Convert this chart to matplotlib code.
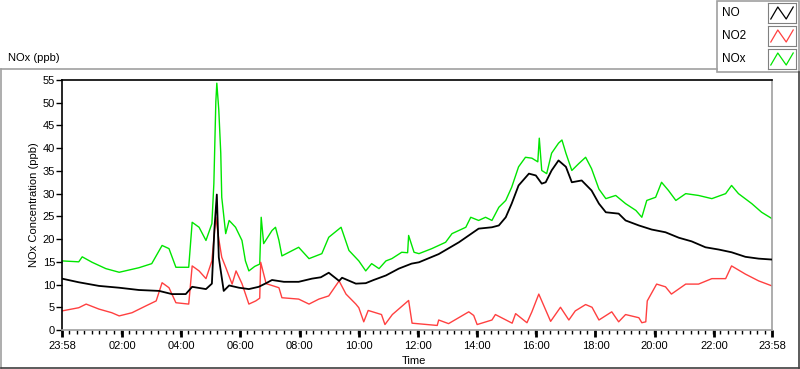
import numpy as np
import matplotlib
matplotlib.use('Agg')
import matplotlib.pyplot as plt
from matplotlib.lines import Line2D
from matplotlib.patches import Rectangle

plt.rcParams['font.family'] = ['Liberation Sans', 'DejaVu Sans']
plt.rcParams['font.size'] = 8

# minutes after 23:58 (start of record), values in ppb
no_min = [0, 34, 75, 116, 156, 197, 223, 251, 264, 292, 304, 309, 314, 318, 322, 328,
          339, 359, 379, 399, 414, 426, 450, 480, 507, 525, 541, 562, 568, 596, 616,
          632, 657, 683, 709, 724, 764, 805, 845, 872, 886, 900, 912, 926, 947, 961,
          973, 981, 993, 1007, 1022, 1034, 1054, 1074, 1089, 1103, 1129, 1143, 1170,
          1196, 1224, 1251, 1277, 1305, 1332, 1358, 1386, 1413, 1440]
no_val = [11.3, 10.5, 9.7, 9.3, 8.8, 8.6, 7.9, 7.9, 9.5, 9.0, 10.2, 22.0, 29.8, 16.0,
          13.0, 8.6, 9.8, 9.3, 9.0, 9.5, 10.3, 11.0, 10.6, 10.6, 11.3, 11.6, 12.6, 10.8,
          11.5, 10.2, 10.3, 11.0, 12.0, 13.5, 14.6, 14.9, 16.7, 19.3, 22.3, 22.6, 23.0,
          24.8, 27.8, 31.8, 34.4, 34.0, 32.2, 32.5, 35.1, 37.3, 35.9, 32.5, 32.9, 30.7,
          27.8, 25.9, 25.6, 24.1, 23.0, 22.1, 21.5, 20.3, 19.5, 18.2, 17.7, 17.1, 16.1,
          15.7, 15.5]

no2_min = [0, 34, 49, 75, 101, 116, 142, 170, 191, 203, 217, 231, 257, 264, 278, 292,
           304, 312, 318, 324, 332, 345, 353, 365, 379, 393, 401, 403, 414, 440, 446,
           480, 501, 521, 541, 562, 576, 596, 602, 612, 621, 648, 655, 670, 703, 710,
           761, 764, 784, 825, 835, 842, 872, 879, 913, 920, 943, 953, 967, 991, 1011,
           1028, 1041, 1062, 1075, 1089, 1115, 1129, 1143, 1170, 1176, 1184, 1187, 1206,
           1224, 1236, 1265, 1291, 1318, 1346, 1358, 1386, 1413, 1440]
no2_val = [4.2, 4.9, 5.7, 4.6, 3.8, 3.1, 3.8, 5.3, 6.4, 10.4, 9.3, 6.0, 5.7, 14.1, 13.0,
           11.3, 15.2, 24.8, 20.0, 16.0, 13.8, 10.1, 13.0, 10.2, 5.7, 6.4, 7.0, 14.9,
           10.2, 9.3, 7.1, 6.8, 5.7, 6.8, 7.5, 10.8, 7.9, 5.7, 4.9, 1.8, 4.3, 3.4, 1.2,
           3.4, 6.5, 1.5, 1.0, 2.2, 1.4, 4.0, 3.2, 1.2, 2.2, 3.4, 1.5, 3.6, 1.6, 4.0,
           7.9, 1.9, 5.0, 2.2, 4.2, 5.6, 5.0, 2.2, 4.0, 1.8, 3.4, 2.7, 1.6, 1.8, 6.4,
           10.1, 9.5, 7.9, 10.1, 10.1, 11.3, 11.3, 14.1, 12.3, 10.8, 9.7]

nox_min = [0, 34, 41, 61, 89, 116, 156, 182, 203, 217, 231, 257, 264, 278, 292, 304,
           308, 312, 314, 318, 322, 324, 332, 339, 352, 365, 372, 379, 391, 401, 404,
           409, 426, 433, 440, 446, 480, 501, 527, 541, 566, 582, 602, 616, 628, 643,
           657, 669, 689, 701, 703, 714, 724, 750, 778, 791, 819, 829, 845, 859, 872,
           886, 900, 912, 926, 940, 953, 965, 968, 973, 983, 993, 1007, 1014, 1022,
           1034, 1048, 1062, 1074, 1089, 1103, 1123, 1143, 1164, 1176, 1186, 1204,
           1216, 1230, 1245, 1265, 1291, 1318, 1346, 1358, 1372, 1399, 1419, 1440]
nox_val = [15.2, 15.0, 16.1, 14.9, 13.5, 12.7, 13.7, 14.6, 18.6, 17.9, 13.8, 13.8, 23.7,
           22.6, 19.7, 23.4, 32.2, 50.2, 54.3, 48.4, 38.9, 29.2, 21.2, 24.1, 22.6, 19.7,
           15.2, 13.0, 14.0, 14.5, 24.8, 19.0, 21.9, 22.6, 19.7, 16.3, 18.2, 15.7, 16.8,
           20.4, 22.6, 17.5, 15.2, 13.0, 14.6, 13.5, 15.2, 15.7, 17.1, 17.0, 20.8, 17.1,
           16.8, 17.9, 19.3, 21.2, 22.6, 24.8, 24.1, 24.8, 24.1, 27.0, 28.5, 31.4, 35.9,
           38.0, 37.8, 37.0, 42.2, 35.1, 34.4, 38.9, 41.1, 41.8, 38.9, 35.1, 36.6, 38.0,
           35.5, 31.0, 28.9, 29.6, 27.8, 26.3, 24.8, 28.5, 29.2, 32.5, 30.7, 28.5, 30.0,
           29.6, 28.9, 30.0, 31.8, 30.0, 27.8, 25.9, 24.5]

series_names = ['NO', 'NO2', 'NOx']
series_colors = ['#000000', '#ff4040', '#00e600']

tick_min = [0, 122, 242, 362, 482, 602, 722, 842, 962, 1082, 1202, 1322, 1440]
tick_lab = ['23:58', '02:00', '04:00', '06:00', '08:00', '10:00', '12:00',
            '14:00', '16:00', '18:00', '20:00', '22:00', '23:58']

fig = plt.figure(figsize=(8, 3.69), dpi=100)
ax = fig.add_axes([62/800, 1-330/369, 710/800, 250/369])

ax.plot(no_min, no_val, color=series_colors[0], lw=1.3, zorder=3)
ax.plot(no2_min, no2_val, color=series_colors[1], lw=1.0, zorder=2)
ax.plot(nox_min, nox_val, color=series_colors[2], lw=1.0, zorder=1)

ax.set_xlim(0, 1440)
ax.set_ylim(0, 55)
ax.set_yticks(np.arange(0, 56, 5))
ax.set_xticks(tick_min)
ax.set_xticklabels(tick_lab)
ax.set_xticks(np.arange(0, 1441, 15), minor=True)
ax.tick_params(axis='y', direction='out', length=4, width=1, pad=1)
ax.tick_params(axis='x', which='major', direction='out', length=5, width=2, pad=3)
ax.tick_params(axis='x', which='minor', direction='out', length=3, width=1)

for s in ['left', 'top']:
    ax.spines[s].set_color('black')
    ax.spines[s].set_linewidth(1.2)
for s in ['right', 'bottom']:
    ax.spines[s].set_color('#a0a0a0')
    ax.spines[s].set_linewidth(1.2)

ax.set_ylabel('NOx Concentration (ppb)', labelpad=3)
fig.text(402/800, 1-361/369, 'Time', ha='left', va='center')
fig.text(8/800, 1-58/369, 'NOx (ppb)', ha='left', va='center')

# outer panel frame
fig.add_artist(Line2D([1/800, 717/800], [1-69/369, 1-69/369], color='#a0a0a0', lw=1.2))
fig.add_artist(Line2D([1/800, 1/800], [1-69/369, 1/369], color='#a0a0a0', lw=1.2))
fig.add_artist(Line2D([1/800, 799/800], [1/369, 1/369], color='#404040', lw=1.2))
fig.add_artist(Line2D([799/800, 799/800], [1/369, 1-72/369], color='#404040', lw=1.2))

# legend box
fig.add_artist(Rectangle((717/800, 1-72/369), 82/800, 71/369, transform=fig.transFigure,
                         fill=False, edgecolor='#a0a0a0', lw=1.2))
for i, (name, col) in enumerate(zip(series_names, series_colors)):
    yc = 13 + 23*i
    fig.text(722/800, 1-yc/369, name, ha='left', va='center', fontsize=8.5)
    lax = fig.add_axes([768/800, 1-(yc+10)/369, 28/800, 20/369])
    lax.plot([0.1, 0.35, 0.65, 0.9], [0.2, 0.8, 0.2, 0.8], color=col, lw=0.9)
    lax.set_xlim(0, 1)
    lax.set_ylim(0, 1)
    lax.set_xticks([])
    lax.set_yticks([])
    for s in lax.spines.values():
        s.set_color('#808080')

fig.savefig('out.png', dpi=100)
